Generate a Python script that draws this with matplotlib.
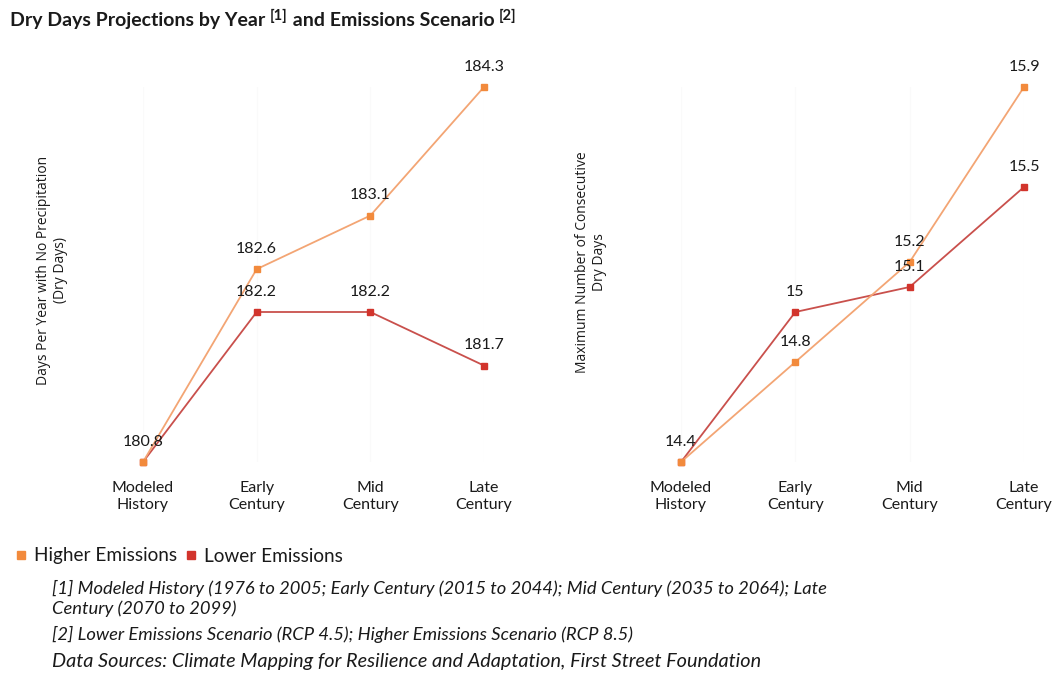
import matplotlib
matplotlib.use("Agg")
import matplotlib.pyplot as plt
from matplotlib.lines import Line2D

# ---- data ----
periods = ["Modeled\nHistory", "Early\nCentury", "Mid\nCentury", "Late\nCentury"]
dry_days_higher = [180.8, 182.6, 183.1, 184.3]
dry_days_lower = [180.8, 182.2, 182.2, 181.7]
consec_higher = [14.4, 14.8, 15.2, 15.9]
consec_lower = [14.4, 15.0, 15.1, 15.5]
series_names = ["Higher Emissions", "Lower Emissions"]

HIGH_MARK = "#f28a3c"
HIGH_LINE = "#f3a574"
LOW_MARK = "#d2342c"
LOW_LINE = "#c9504c"
TEXT = "#1a1a1a"

plt.rcParams["font.family"] = ["Lato", "DejaVu Sans"]

W, H = 1055, 673
fig = plt.figure(figsize=(W / 100, H / 100), dpi=100)
fig.patch.set_facecolor("white")


def px_axes(x0, x1, ytop, ybot):
    return fig.add_axes([x0 / W, 1 - ybot / H, (x1 - x0) / W, (ybot - ytop) / H])


def draw_panel(ax, higher, lower, fmt):
    x = list(range(len(periods)))
    ax.plot(x, lower, color=LOW_LINE, lw=1.3, marker="s", ms=4.6,
            mfc=LOW_MARK, mec=LOW_MARK, clip_on=False, zorder=3)
    ax.plot(x, higher, color=HIGH_LINE, lw=1.3, marker="s", ms=4.6,
            mfc=HIGH_MARK, mec=HIGH_MARK, clip_on=False, zorder=4)
    for xi, v in zip(x, higher):
        ax.annotate(fmt(v), (xi, v), xytext=(0, 14.5), textcoords="offset points",
                    ha="center", va="center", fontsize=11.5, color=TEXT, zorder=5)
    for xi, v in zip(x, lower):
        if xi == 0:
            continue
        ax.annotate(fmt(v), (xi, v), xytext=(0, 14.5), textcoords="offset points",
                    ha="center", va="center", fontsize=11.5, color=TEXT, zorder=5)
    ax.set_xlim(0, 3)
    ax.set_xticks(x)
    ax.set_xticklabels(periods, fontsize=11.5, color=TEXT, linespacing=1.2)
    ax.tick_params(axis="x", length=0, pad=14)
    ax.set_yticks([])
    for s in ax.spines.values():
        s.set_visible(False)
    ax.grid(axis="x", color="#fafafa", lw=1)
    ax.set_facecolor("none")


def fmt1(v):
    return f"{v:.1f}"


def fmt_short(v):
    s = f"{v:.1f}"
    return s[:-2] if s.endswith(".0") else s


ax1 = px_axes(143, 484, 87, 462)
ax1.set_ylim(min(dry_days_higher + dry_days_lower), max(dry_days_higher + dry_days_lower))
draw_panel(ax1, dry_days_higher, dry_days_lower, fmt1)

ax2 = px_axes(681, 1024, 87, 462)
ax2.set_ylim(min(consec_higher + consec_lower), max(consec_higher + consec_lower))
draw_panel(ax2, consec_higher, consec_lower, fmt_short)

# y-axis titles
fig.text(52 / W, 1 - 270 / H, "Days Per Year with No Precipitation\n(Dry Days)",
         rotation=90, ha="center", va="center", fontsize=10, color=TEXT,
         family=["Open Sans", "DejaVu Sans"], linespacing=1.2)
fig.text(591 / W, 1 - 262 / H, "Maximum Number of Consecutive\nDry Days",
         rotation=90, ha="center", va="center", fontsize=10, color=TEXT,
         family=["Open Sans", "DejaVu Sans"], linespacing=1.2)

# title with superscript references
renderer = fig.canvas.get_renderer()
pieces = [("Dry Days Projections by Year ", 14, 0),
          ("[1]", 10.5, 6),
          (" and Emissions Scenario ", 14, 0),
          ("[2]", 10.5, 6)]
xpos = 10
for txt, size, rise in pieces:
    t = fig.text(xpos / W, 1 - (26 - rise) / H, txt, fontsize=size,
                 fontweight="bold", color=TEXT, ha="left", va="baseline")
    bb = t.get_window_extent(renderer)
    xpos += bb.width

# legend
handles = [Line2D([], [], ls="none", marker="s", ms=5.5, mfc=HIGH_MARK, mec=HIGH_MARK),
           Line2D([], [], ls="none", marker="s", ms=5.5, mfc=LOW_MARK, mec=LOW_MARK)]
fig.legend(handles, series_names, loc="center left",
           bbox_to_anchor=(16 / W, 1 - 556 / H), ncol=2, frameon=False,
           fontsize=13.7, handlelength=0.5, handletextpad=0.45, columnspacing=0.45,
           borderpad=0, borderaxespad=0, labelcolor=TEXT)

# footnotes
notes = [
    ("[1] Modeled History (1976 to 2005; Early Century (2015 to 2044); Mid Century (2035 to 2064); Late", 588, 13.2),
    ("Century (2070 to 2099)", 609, 13.2),
    ("[2] Lower Emissions Scenario (RCP 4.5); Higher Emissions Scenario (RCP 8.5)", 634, 13.2),
    ("Data Sources: Climate Mapping for Resilience and Adaptation, First Street Foundation", 661, 14.3),
]
for txt, y, size in notes:
    fig.text(52 / W, 1 - y / H, txt, fontsize=size, style="italic",
             color=TEXT, ha="left", va="center")

fig.savefig("out.png", dpi=100, facecolor="white")
